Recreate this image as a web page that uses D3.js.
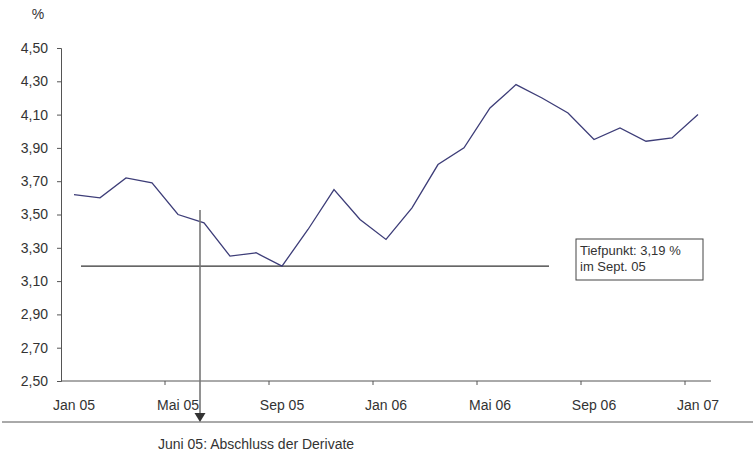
<!DOCTYPE html>
<html>
<head>
<meta charset="utf-8">
<script src="https://cdn.jsdelivr.net/npm/d3@7"></script>
<style>
    body { margin: 0; background: #fff; }
    text { font-family: "Liberation Sans", Arial, sans-serif; fill: #333; }
</style>
</head>
<body>
<div id="chart"></div>
<script>
"use strict";
// monthly values Jan 05 .. Jan 07
var months = ["Jan 05", "Feb 05", "Mrz 05", "Apr 05", "Mai 05", "Jun 05", "Jul 05", "Aug 05",
    "Sep 05", "Okt 05", "Nov 05", "Dez 05", "Jan 06", "Feb 06", "Mrz 06", "Apr 06", "Mai 06",
    "Jun 06", "Jul 06", "Aug 06", "Sep 06", "Okt 06", "Nov 06", "Dez 06", "Jan 07"];
var rates = [3.62, 3.60, 3.72, 3.69, 3.50, 3.45, 3.25, 3.27, 3.19, 3.41, 3.65, 3.47, 3.35,
    3.54, 3.80, 3.90, 4.14, 4.28, 4.20, 4.11, 3.95, 4.02, 3.94, 3.96, 4.10];
var yTicks = [2.5, 2.7, 2.9, 3.1, 3.3, 3.5, 3.7, 3.9, 4.1, 4.3, 4.5];
var lowValue = 3.19;
var lowFrom = "Jan 05", lowTo = "Mai 06";
var eventMonth = "Jun 05";

var width = 753, height = 457;
var svg = d3.select("#chart").append("svg")
    .attr("width", width)
    .attr("height", height);

var x = d3.scaleBand().domain(months).range([61, 711]);
var y = d3.scaleLinear().domain([2.5, 4.5]).range([381, 48]);
var cx = function (m) { return x(m) + x.bandwidth() / 2; };
var fmt = function (v) { return d3.format(".2f")(v).replace(".", ","); };

// y axis
var yAxis = d3.axisLeft(y).tickValues(yTicks).tickSize(4).tickPadding(9).tickFormat(fmt);
var gy = svg.append("g").attr("transform", "translate(61,0)").call(yAxis);
gy.selectAll("text").style("font-size", "14px").attr("fill", "#333");
gy.selectAll("line, path").attr("stroke", "#555");

// x axis: ticks on band edges every 4 months, labels on the month centers
var edges = months.filter(function (m, i) { return i % 4 === 0 && i > 0; });
var gx = svg.append("g").attr("transform", "translate(0,381)");
gx.append("line").attr("x1", 61).attr("x2", 711).attr("stroke", "#555");
gx.selectAll(".tick").data(edges).enter().append("line")
    .attr("x1", function (m) { return x(m); })
    .attr("x2", function (m) { return x(m); })
    .attr("y2", 4)
    .attr("stroke", "#555");
gx.selectAll(".lbl").data(months.filter(function (m, i) { return i % 4 === 0; })).enter()
    .append("text")
    .attr("x", cx)
    .attr("y", 29)
    .attr("text-anchor", "middle")
    .style("font-size", "14px")
    .text(function (m) { return m; });

svg.append("text").attr("x", 38).attr("y", 19).attr("text-anchor", "middle")
    .style("font-size", "14px").text("%");

// low point line
svg.append("line")
    .attr("x1", cx(lowFrom) + 7).attr("x2", cx(lowTo) + 59)
    .attr("y1", y(lowValue)).attr("y2", y(lowValue))
    .attr("stroke", "#333").attr("stroke-width", 1.2);

// series
var line = d3.line()
    .x(function (d, i) { return cx(months[i]); })
    .y(function (d) { return y(d); });
svg.append("path").datum(rates)
    .attr("d", line)
    .attr("fill", "none")
    .attr("stroke", "#3d3d78")
    .attr("stroke-width", 1.3);

// event marker with arrow
var ex = x(eventMonth) + 9;
svg.append("line")
    .attr("x1", ex).attr("x2", ex)
    .attr("y1", 210).attr("y2", 414)
    .attr("stroke", "#777").attr("stroke-width", 1.6);
svg.append("path")
    .attr("d", "M" + (ex - 5.5) + ",413L" + (ex + 5.5) + ",413L" + ex + ",422Z")
    .attr("fill", "#333");

// separator and caption
svg.append("line").attr("x1", 2).attr("x2", 753).attr("y1", 422).attr("y2", 422)
    .attr("stroke", "#555");
svg.append("text").attr("x", 158).attr("y", 449).style("font-size", "14px")
    .text("Juni 05: Abschluss der Derivate");

// annotation box
var box = svg.append("g").attr("transform", "translate(576,239)");
box.append("rect").attr("width", 127).attr("height", 41)
    .attr("fill", "#fff").attr("stroke", "#444");
box.append("text").attr("x", 4).attr("y", 15.5).style("font-size", "13px")
    .text("Tiefpunkt: " + fmt(lowValue) + " %");
box.append("text").attr("x", 4).attr("y", 31.5).style("font-size", "13px")
    .text("im Sept. 05");
</script>
</body>
</html>
